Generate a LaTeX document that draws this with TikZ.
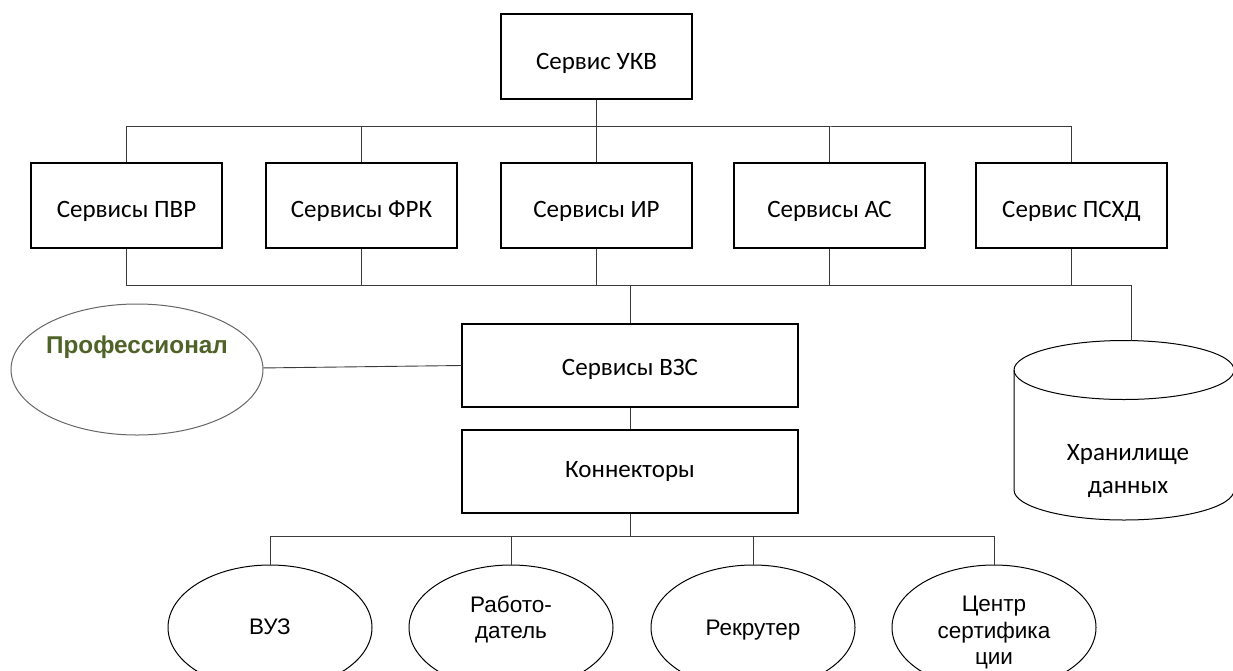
\documentclass[tikz,border=0pt]{standalone}
\usepackage{fontspec}
\setmainfont{Carlito}
\newfontfamily\arialf{Liberation Sans}
\usetikzlibrary{shapes.geometric}
\definecolor{profgreen}{HTML}{4F6228}
\definecolor{linegray}{HTML}{3A3A3A}
\tikzset{
  boxnode/.style={draw=black, line width=1.1pt, minimum width=191pt, minimum height=85pt, inner sep=0pt, font=\fontsize{25}{30}\selectfont},
  lowtext/.style={text height=#1, text depth=5pt},
  widebox/.style={boxnode, minimum width=336pt, minimum height=83pt},
  actor/.style={draw=black, line width=1pt, ellipse, minimum width=204pt, minimum height=125pt, inner sep=0pt},
  actortext/.style={align=center, inner sep=0pt, font=\arialf\fontsize{22.5}{26.5}\selectfont},
  conn/.style={draw=linegray, line width=0.9pt},
  profell/.style={draw=gray!80!black, line width=1pt, ellipse, minimum width=252pt, minimum height=131pt, inner sep=0pt},
  proftext/.style={text=profgreen, font=\arialf\bfseries\fontsize{24.3}{28}\selectfont},
  dbtext/.style={align=center, font=\fontsize{25}{33}\selectfont}
}
\begin{document}
\begin{tikzpicture}[x=1pt,y=-1pt]
\clip (0,0) rectangle (1233,670);
\fill[white] (0,0) rectangle (1233,670);
% top
\node[boxnode, lowtext=30pt] (ukv) at (596.5,56.5) {Сервис УКВ};
\node[boxnode, lowtext=28pt] (pvr) at (126.5,205.5) {Сервисы ПВР};
\node[boxnode, lowtext=28pt] (frk) at (361.5,205.5) {Сервисы ФРК};
\node[boxnode, lowtext=28pt] (ir) at (596.5,205.5) {Сервисы ИР};
\node[boxnode, lowtext=28pt] (as) at (829.5,205.5) {Сервисы АС};
\node[boxnode, lowtext=28pt] (pschd) at (1071.5,205.5) {Сервис ПСХД};
\coordinate (bus1) at (596.5,126);
\coordinate (bus2) at (630,285);
\draw[conn] (ukv.south) -- (bus1);
\draw[conn] (pvr.north) |- (bus1) -| (pschd.north);
\draw[conn] (frk.north) |- (bus1);
\draw[conn] (ir.north) -- (bus1);
\draw[conn] (as.north) |- (bus1);
% middle
\node[widebox, lowtext=24pt] (vzs) at (630,365.5) {Сервисы ВЗС};
\node[widebox] (kon) at (630,471.5) {Коннекторы};
\node[profell] (prof) at (137,369.5) {};
\node[proftext] (proft) at (137,347) {Профессионал};
% database
\coordinate (dbtop) at (1131,341);
\draw[line width=1pt, draw=black] (1014,370) -- (1014,490) arc[start angle=180, end angle=360, x radius=110, y radius=-30] -- (1234,370);
\draw[line width=1pt, draw=black] (1124,370) ellipse[x radius=110, y radius=29.5];
\node[dbtext] (db) at (1128,471) {Хранилище\\данных};
\draw[conn] (pvr.south) |- (bus2);
\draw[conn] (frk.south) |- (bus2);
\draw[conn] (ir.south) |- (bus2);
\draw[conn] (as.south) |- (bus2);
\draw[conn] (pschd.south) |- (bus2);
\draw[conn] (bus2) -| (dbtop);
\draw[conn] (bus2) -- (vzs.north);
\draw[conn] (prof) -- (vzs.west);
\draw[conn] (vzs.south) -- (kon.north);
% bottom
\node[actor] (vuz) at (270,627.5) {};
\node[actor] (rab) at (511,627.5) {};
\node[actor] (rek) at (753,627.5) {};
\node[actor] (cen) at (994,627.5) {};
\node[actortext] (vuzt) at (270,626.5) {ВУЗ};
\node[actortext] (rabt) at (511,619.5) {Работо-\\датель};
\node[actortext] (rekt) at (753,630.5) {Рекрутер};
\node[actortext] (cent) at (994,632.5) {Центр\\сертифика\\ции};
\coordinate (bus3) at (630,536);
\draw[conn] (kon.south) -- (bus3);
\draw[conn] (vuz.north) |- (bus3) -| (cen.north);
\draw[conn] (rab.north) |- (bus3);
\draw[conn] (rek.north) |- (bus3);
\end{tikzpicture}
\end{document}
